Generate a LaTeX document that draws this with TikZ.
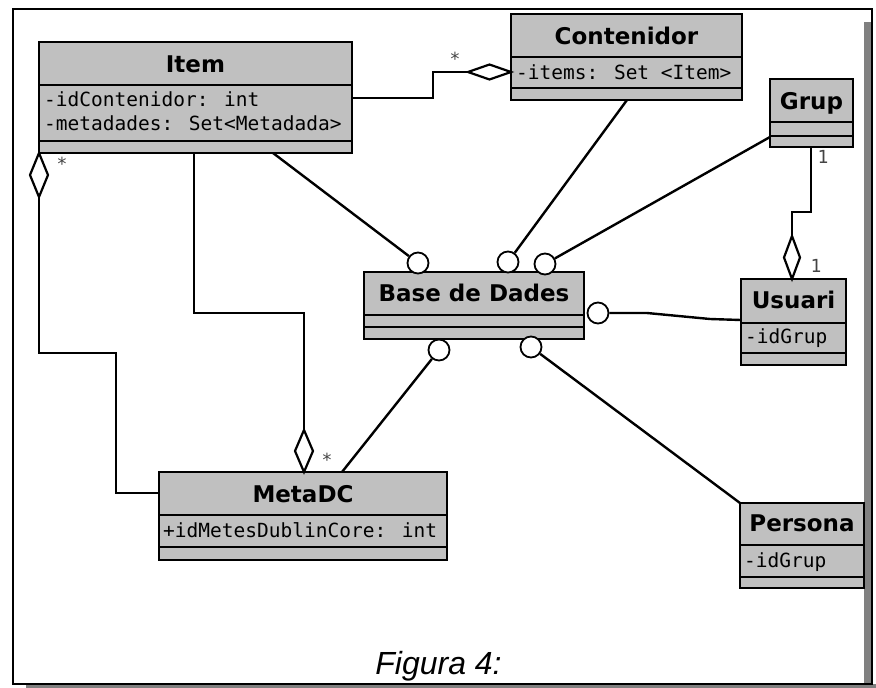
\documentclass[tikz,border=0pt]{standalone}
\usepackage{fontspec}
\usetikzlibrary{calc}
\newfontfamily\headfont{DejaVu Sans}
\newfontfamily\attrfont{DejaVu Sans Mono}
\newfontfamily\capfont{Liberation Sans}
\definecolor{boxgray}{HTML}{C0C0C0}
\definecolor{shadowgray}{HTML}{808080}
\definecolor{multgray}{HTML}{444444}

\begin{document}
\begin{tikzpicture}[x=1pt,y=-1pt,
  classbox/.style={draw=black, fill=boxgray, line width=2.8pt, rectangle,
    inner sep=0pt, outer sep=0pt, anchor=north west},
  sepline/.style={line width=2.8pt},
  conn/.style={line width=2.4pt, line join=miter},
  agg/.style={line width=2.2pt, fill=white, line join=miter},
  ball/.style={circle, draw=black, fill=white, line width=1.8pt,
    minimum size=21pt, inner sep=0pt},
  classtitle/.style={font=\headfont\bfseries\fontsize{23}{23}\selectfont,
    anchor=base, inner sep=0pt},
  attr/.style={font=\attrfont\fontsize{19.5}{19.5}\selectfont,
    anchor=base west, inner sep=0pt},
  mult/.style={font=\attrfont\fontsize{18}{18}\selectfont, text=multgray,
    inner sep=0pt},
]
\useasboundingbox (0,0) rectangle (876,688);

% page frame with its shadow
\fill[shadowgray] (26,684) rectangle (876,688);
\fill[shadowgray] (864,22) rectangle (871,684);
\draw[line width=2pt] (13,9) rectangle (872,684);

% ---- classes ----
\node[classbox, minimum width=313pt, minimum height=111pt] (item) at (39,42) {};
\draw[sepline] (item.west |- 0,85) -- (item.east |- 0,85);
\draw[sepline] (item.west |- 0,141) -- (item.east |- 0,141);
\node[classtitle] (item-t) at (195.5,72) {Item};
\node[attr] (item-a1) at (44,106) {-idContenidor: int};
\node[attr] (item-a2) at (44,130) {-metadades: Set<Metadada>};

\node[classbox, minimum width=231pt, minimum height=86pt] (cont) at (511,14) {};
\draw[sepline] (cont.west |- 0,57) -- (cont.east |- 0,57);
\draw[sepline] (cont.west |- 0,88) -- (cont.east |- 0,88);
\node[classtitle] (cont-t) at (626.5,44) {Contenidor};
\node[attr] (cont-a1) at (516,79) {-items: Set <Item>};

\node[classbox, minimum width=83pt, minimum height=68pt] (grup) at (770,79) {};
\draw[sepline] (grup.west |- 0,122) -- (grup.east |- 0,122);
\draw[sepline] (grup.west |- 0,136) -- (grup.east |- 0,136);
\node[classtitle] (grup-t) at (811.5,109) {Grup};

\node[classbox, minimum width=105pt, minimum height=86pt] (usu) at (741,279) {};
\draw[sepline] (usu.west |- 0,323) -- (usu.east |- 0,323);
\draw[sepline] (usu.west |- 0,353) -- (usu.east |- 0,353);
\node[classtitle] (usu-t) at (793.5,308) {Usuari};
\node[attr] (usu-a1) at (745,343) {-idGrup};

\node[classbox, minimum width=220pt, minimum height=67pt] (bd) at (364,272) {};
\draw[sepline] (bd.west |- 0,315) -- (bd.east |- 0,315);
\draw[sepline] (bd.west |- 0,327) -- (bd.east |- 0,327);
\node[classtitle] (bd-t) at (474,301) {Base de Dades};

\node[classbox, minimum width=288pt, minimum height=88pt] (meta) at (159,472) {};
\draw[sepline] (meta.west |- 0,515) -- (meta.east |- 0,515);
\draw[sepline] (meta.west |- 0,547) -- (meta.east |- 0,547);
\node[classtitle] (meta-t) at (303,502) {MetaDC};
\node[attr] (meta-a1) at (163,537) {+idMetesDublinCore: int};

\node[classbox, minimum width=124pt, minimum height=85pt] (pers) at (740,503) {};
\draw[sepline] (pers.west |- 0,545) -- (pers.east |- 0,545);
\draw[sepline] (pers.west |- 0,577) -- (pers.east |- 0,577);
\node[classtitle] (pers-t) at (802,531) {Persona};
\node[attr] (pers-a1) at (744,567) {-idGrup};

% ---- interface balls on Base de Dades ----
\node[ball] (b1) at (418,263) {};
\node[ball] (b2) at (508,262) {};
\node[ball] (b3) at (545,264) {};
\node[ball] (b4) at (598,313) {};
\node[ball] (b5) at (439,350) {};
\node[ball] (b6) at (531,347) {};

% ---- attachment points on the class boxes ----
\coordinate (item-r)   at (352,98);
\coordinate (item-sw)  at (39,153);
\coordinate (item-b)   at (194,153);
\coordinate (item-b2)  at (273,153);
\coordinate (cont-l)   at (511,72);
\coordinate (cont-b)   at (627,100);
\coordinate (grup-l)   at (770,137);
\coordinate (grup-b)   at (811,147);
\coordinate (usu-t)    at (792,279);
\coordinate (usu-l)    at (741,320);
\coordinate (meta-l)   at (159,493);
\coordinate (meta-t)   at (304,472);
\coordinate (meta-t2)  at (342,472);
\coordinate (pers-tl)  at (740,503);

% ---- associations ----
\draw[conn] (item-r) -| (433,72) -- ($(cont-l)+(-43,0)$);
\draw[conn] ($(item-sw)+(0,44)$) |- (116,353) |- (meta-l);
\draw[conn] (item-b) |- (304,313) -- ($(meta-t)+(0,-42)$);
\draw[conn] (grup-b) |- (792,212) -- ($(usu-t)+(0,-43)$);

\draw[conn] (item-b2) -- (b1);
\draw[conn] (cont-b) -- (b2);
\draw[conn] (grup-l) -- (b3);
\draw[conn] (usu-l) -- (710,319) -- (647,313) -- (b4);
\draw[conn] (meta-t2) -- (b5);
\draw[conn] (pers-tl) -- (b6);

% ---- aggregation diamonds ----
\draw[agg] (cont-l) -- ++(-21.5,-7.5) -- ++(-21.5,7.5) -- ++(21.5,7.5) -- cycle;
\draw[agg] (item-sw) -- ++(9,22) -- ++(-9,22) -- ++(-9,-22) -- cycle;
\draw[agg] (meta-t) -- ++(9,-21) -- ++(-9,-21) -- ++(-9,21) -- cycle;
\draw[agg] (usu-t) -- ++(8,-21.5) -- ++(-8,-21.5) -- ++(-8,21.5) -- cycle;

% ---- multiplicities ----
\node[mult] (m1) at (455,59) {*};
\node[mult] (m2) at (62,164) {*};
\node[mult] (m3) at (327,460) {*};
\node[mult] (m4) at (823,157) {1};
\node[mult] (m5) at (816,266) {1};

% ---- caption ----
\node[font=\capfont\itshape\fontsize{32}{32}\selectfont, anchor=base, inner sep=0pt]
  (caption) at (438.5,674) {Figura 4:};
\end{tikzpicture}
\end{document}
